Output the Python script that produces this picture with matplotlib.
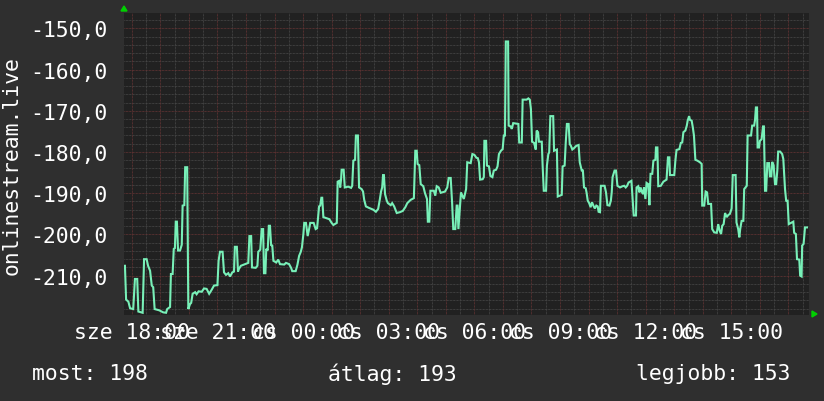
import matplotlib
matplotlib.use("Agg")
import matplotlib.pyplot as plt
import numpy as np

# ---- data: hours after "sze 18:00", values ----
hours = [
    -0.24, -0.20, -0.12, -0.06, 0.05, 0.11, 0.19, 0.23, 0.38, 0.43, 0.52, 0.57, 0.64, 0.70, 0.75,
    0.80, 0.96, 1.10, 1.20, 1.24, 1.34, 1.37, 1.43, 1.47, 1.51, 1.54, 1.58, 1.62, 1.69, 1.75,
    1.78, 1.84, 1.87, 1.94, 1.98, 2.04, 2.08, 2.13, 2.22, 2.27, 2.34, 2.45, 2.53, 2.62, 2.71,
    2.80, 2.88, 3.00, 3.04, 3.09, 3.18, 3.23, 3.30, 3.38, 3.44, 3.52, 3.58, 3.61, 3.68, 3.72,
    3.75, 3.82, 3.97, 4.08, 4.12, 4.18, 4.21, 4.34, 4.40, 4.43, 4.50, 4.55, 4.60, 4.63, 4.68,
    4.71, 4.76, 4.80, 4.84, 4.88, 4.92, 4.96, 5.06, 5.13, 5.19, 5.34, 5.40, 5.51, 5.58, 5.62,
    5.74, 5.80, 5.86, 5.92, 5.96, 6.01, 6.04, 6.10, 6.16, 6.21, 6.25, 6.37, 6.44, 6.49, 6.52,
    6.56, 6.60, 6.64, 6.67, 6.71, 6.83, 6.92, 7.00, 7.06, 7.18, 7.21, 7.27, 7.30, 7.33, 7.35,
    7.42, 7.46, 7.58, 7.68, 7.72, 7.76,
    7.82, 7.85, 7.92, 7.96, 8.05, 8.10, 8.14, 8.20, 8.32, 8.46, 8.55, 8.63, 8.69, 8.73, 8.77,
    8.80, 8.83, 8.87, 8.93, 8.97, 9.07, 9.12, 9.19, 9.28, 9.39, 9.49, 9.58, 9.65, 9.77, 9.88,
    9.93, 9.98, 10.01, 10.07, 10.12, 10.21, 10.27, 10.34, 10.37, 10.42, 10.46, 10.58, 10.63, 10.68, 10.75,
    10.82, 10.97, 11.05, 11.10, 11.17, 11.22, 11.26, 11.33, 11.38, 11.41, 11.44, 11.53, 11.63, 11.71, 11.75,
    11.87, 11.93, 12.00, 12.07, 12.12, 12.16, 12.20, 12.29, 12.33, 12.35, 12.41, 12.44, 12.51, 12.56, 12.63,
    12.68, 12.76, 12.81, 12.86, 12.93, 12.99, 13.03, 13.07, 13.10, 13.18, 13.20, 13.27, 13.31, 13.36, 13.54,
    13.57, 13.66, 13.69, 13.83, 13.89, 13.94, 13.98, 14.02, 14.09, 14.15, 14.18, 14.23, 14.26, 14.36, 14.39,
    14.43, 14.51, 14.54, 14.59, 14.62, 14.66, 14.76, 14.79, 14.89, 14.92, 15.06, 15.09, 15.16, 15.20, 15.24,
    15.30, 15.34, 15.38, 15.43, 15.50, 15.57, 15.65, 15.69, 15.76, 15.80,
    15.84, 15.90, 15.93, 15.97, 16.02, 16.07, 16.12, 16.18, 16.22, 16.27, 16.32, 16.35, 16.40, 16.43, 16.56,
    16.61, 16.66, 16.73, 16.78, 16.81, 16.84, 16.91, 16.96, 17.01, 17.10, 17.19, 17.25, 17.30, 17.35, 17.40,
    17.50, 17.54, 17.58, 17.66, 17.68, 17.74, 17.78, 17.82, 17.88, 17.91, 17.94, 17.99, 18.03, 18.09, 18.13,
    18.17, 18.23, 18.27, 18.34, 18.36, 18.41, 18.44, 18.53, 18.62, 18.73, 18.78, 18.83, 18.85, 19.00, 19.04,
    19.08, 19.18, 19.23, 19.28, 19.32, 19.39, 19.44, 19.47, 19.52, 19.55, 19.61, 19.65, 19.69, 19.74, 19.81,
    19.90, 19.96, 19.98, 20.05, 20.10, 20.15, 20.19, 20.29, 20.33, 20.40, 20.49, 20.54, 20.59, 20.64, 20.68,
    20.73, 20.78, 20.84, 20.89, 20.95, 21.01, 21.05, 21.15, 21.18, 21.24, 21.28, 21.31, 21.36, 21.42, 21.45,
    21.54, 21.57, 21.69, 21.73, 21.80, 21.83, 21.86, 21.90, 21.92, 21.97, 22.00, 22.06, 22.11, 22.14, 22.18,
    22.22, 22.26, 22.32, 22.35, 22.40, 22.43, 22.48, 22.53, 22.57, 22.61, 22.64, 22.71, 22.78, 22.82, 22.88,
    22.92, 22.97, 23.01, 23.17, 23.20, 23.26, 23.30, 23.38, 23.41, 23.46, 23.48, 23.53, 23.58, 23.65,
]
values = [
    -207.6, -215.8, -216.3, -217.9, -218.1, -210.8, -210.8, -218.7, -219.0, -206.0, -206.0, -207.6, -208.8, -212.4, -212.8,
    -218.1, -218.4, -218.9, -219.0, -218.1, -217.6, -209.6, -209.6, -203.5, -203.3, -196.9, -196.9, -203.9, -203.9, -202.5,
    -193.0, -192.9, -183.7, -183.7, -218.1, -216.9, -216.6, -214.4, -214.0, -214.5, -213.8, -213.9, -213.1, -213.2, -214.4,
    -213.4, -212.4, -212.3, -206.4, -204.2, -204.2, -209.2, -209.8, -209.4, -210.2, -209.2, -209.0, -203.0, -203.0, -209.0,
    -208.4, -207.6, -207.2, -206.9, -200.4, -200.4, -208.0, -208.1, -207.6, -204.2, -203.7, -198.7, -198.7, -209.4, -209.4,
    -203.5, -203.9, -197.9, -197.9, -202.6, -202.7, -206.4, -206.8, -206.1, -207.2, -207.3, -206.9, -207.2, -208.1, -208.9,
    -208.9, -207.4, -205.2, -204.2, -203.1, -199.9, -197.2, -197.2, -200.4, -198.7, -197.2, -197.2, -198.7, -198.5, -196.3,
    -193.2, -193.0, -191.1, -191.1, -195.8, -196.1, -196.3, -197.2, -197.7, -197.2, -187.2, -187.0, -188.6, -186.7, -184.3,
    -184.3, -188.6, -188.4, -188.7, -188.2, -182.1,
    -181.9, -176.0, -176.0, -188.6, -189.0, -189.6, -191.6, -193.2, -193.6, -194.0, -194.5, -193.8, -191.4, -189.6, -188.6,
    -185.6, -185.6, -190.2, -191.8, -192.4, -192.9, -192.4, -193.2, -194.8, -194.6, -194.3, -193.4, -192.4, -191.6, -191.2,
    -179.7, -179.7, -182.9, -183.2, -187.8, -188.3, -190.0, -191.4, -196.9, -196.9, -189.4, -189.4, -190.6, -188.3, -188.6,
    -189.9, -189.6, -188.6, -186.3, -186.3, -192.4, -198.7, -198.7, -193.0, -193.0, -198.7, -189.8, -191.4, -189.0, -182.5,
    -182.7, -180.5, -180.7, -181.4, -181.5, -182.5, -186.7, -186.6, -186.1, -177.3, -177.3, -183.3, -183.5, -185.8, -186.1,
    -184.5, -184.3, -183.5, -180.5, -179.7, -179.3, -176.0, -176.0, -153.2, -153.2, -173.6, -173.8, -174.4, -173.0, -173.2,
    -177.7, -177.7, -167.3, -167.3, -167.0, -167.3, -169.6, -177.5, -177.8, -179.4, -174.8, -175.2, -177.5, -177.5, -183.3,
    -189.4, -189.4, -183.3, -180.5, -180.1, -171.3, -171.3, -179.7, -179.4, -190.8, -190.4, -183.5, -183.3, -177.7, -173.2,
    -173.2, -178.1, -178.5, -179.4, -179.0, -178.5, -178.3, -182.5, -184.5, -184.5,
    -188.6, -188.8, -189.9, -191.8, -192.4, -193.4, -192.2, -193.2, -193.7, -193.0, -193.2, -194.5, -194.6, -188.2, -188.2,
    -189.8, -192.9, -193.0, -191.8, -189.8, -186.1, -184.5, -184.5, -188.2, -188.6, -188.3, -188.2, -188.6, -188.2, -187.4,
    -187.0, -191.4, -195.4, -195.4, -188.6, -188.3, -189.8, -188.6, -189.9, -190.2, -188.6, -191.4, -187.5, -187.8, -192.9,
    -185.3, -185.3, -182.1, -181.9, -178.9, -178.9, -188.3, -188.2, -187.2, -186.7, -181.3, -181.3, -185.6, -185.6, -182.1,
    -179.5, -179.3, -177.8, -177.7, -175.2, -174.8, -173.6, -172.4, -171.3, -172.2, -172.4, -174.0, -176.0, -181.9, -182.1,
    -182.5, -182.9, -193.0, -193.0, -189.6, -189.8, -192.6, -192.6, -198.7, -199.5, -199.6, -197.5, -199.1, -199.9, -197.9,
    -197.5, -194.8, -195.8, -195.3, -195.0, -193.7, -185.6, -185.6, -197.1, -198.7, -200.7, -198.7, -196.7, -196.7, -189.0,
    -188.2, -176.0, -176.0, -173.6, -173.6, -172.2, -169.2, -169.2, -178.9, -178.9, -177.3, -176.9, -173.8, -173.8, -189.4,
    -189.4, -182.7, -182.7, -185.9, -185.9, -182.4, -183.2, -187.8, -187.8, -184.5, -179.9, -179.9, -180.5, -181.7, -189.0,
    -191.8, -191.8, -197.5, -196.9, -199.6, -199.9, -206.0, -206.1, -210.0, -210.2, -202.7, -202.3, -198.3, -198.3,
]

tick_hours = [0, 3, 6, 9, 12, 15, 18, 21]
tick_labels = ["sze 18:00", "sze 21:00", "cs 00:00", "cs 03:00",
               "cs 06:00", "cs 09:00", "cs 12:00", "cs 15:00"]
ytick_values = [-210, -200, -190, -180, -170, -160, -150]
ytick_labels = ["-210,0", "-200,0", "-190,0", "-180,0", "-170,0", "-160,0", "-150,0"]
y_label = "onlinestream.live"
footer_now = "most: 198"
footer_avg = "átlag: 193"
footer_best = "legjobb: 153"

# ---- style ----
W, H, DPI = 824, 402, 100
BG = "#2f2f2f"
PLOT_BG = "#212121"
TXT = "#ffffff"
LINE = "#78f0b8"
MINOR = "#484848"
MAJOR = "#663434"
FONT = "DejaVu Sans Mono"
FS = 15.4

fig = plt.figure(figsize=(W / DPI, H / DPI), dpi=DPI, facecolor=BG)
L, R, T, B = 124, 809, 14.3, 316
ax = fig.add_axes([L / W, 1 - B / H, (R - L) / W, (B - T) / H])
ax.set_facecolor(PLOT_BG)

x0, x1 = -0.273, 23.72
y0, y1 = -219.54, -146.36
ax.set_xlim(x0, x1)
ax.set_ylim(y0, y1)

dot = (0, (0.72, 0.72))
# vertical grid: minor every half hour, major every hour
for hx in np.arange(-0.5, 24.01, 0.5):
    if x0 < hx < x1:
        is_major = abs(hx - round(hx)) < 1e-6
        ax.axvline(hx, color=MAJOR if is_major else MINOR, lw=0.72,
                   linestyle=dot, zorder=1 if is_major else 0.5)
# horizontal grid: minor every 2, major every 10
for vy in np.arange(-220, -144, 2):
    if y0 < vy < y1:
        is_major = vy % 10 == 0
        ax.axhline(vy, color=MAJOR if is_major else MINOR, lw=0.72,
                   linestyle=dot, zorder=1 if is_major else 0.5)

ax.plot(hours, values, color=LINE, lw=1.5, zorder=3, solid_joinstyle="miter")

ax.set_xticks(tick_hours, labels=tick_labels)
ax.set_yticks(ytick_values, labels=ytick_labels)
ax.tick_params(axis="both", length=0, colors=TXT, labelsize=FS)
ax.tick_params(axis="x", pad=5)
ax.tick_params(axis="y", pad=12)
for lab in ax.get_xticklabels() + ax.get_yticklabels():
    lab.set_fontfamily(FONT)
for s in ax.spines.values():
    s.set_visible(False)

fig.text(11.5 / W, 1 - ((T + B) / 2) / H, y_label, rotation=90, ha="center",
         va="center", color=TXT, fontsize=FS, family=FONT)

fy = 1 - 374 / H
fig.text(32 / W, fy, footer_now, ha="left", va="center", color=TXT, fontsize=FS, family=FONT)
fig.text(328 / W, fy, footer_avg, ha="left", va="center", color=TXT, fontsize=FS, family=FONT)
fig.text(790 / W, fy, footer_best, ha="right", va="center", color=TXT, fontsize=FS, family=FONT)

# axis arrows (rrdtool style)
fig.patches.append(plt.Polygon([[121 / W, 1 - 12 / H], [127 / W, 1 - 12 / H], [124 / W, 1 - 7 / H]],
                               closed=True, transform=fig.transFigure, color="#00d000"))
fig.patches.append(plt.Polygon([[812 / W, 1 - 312 / H], [812 / W, 1 - 318 / H], [817 / W, 1 - 315 / H]],
                               closed=True, transform=fig.transFigure, color="#00d000"))

fig.savefig("out.png", dpi=DPI, facecolor=BG)
